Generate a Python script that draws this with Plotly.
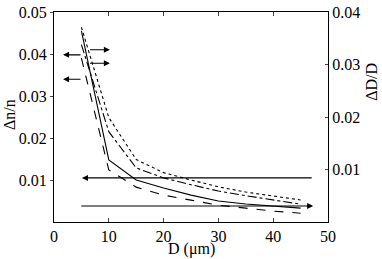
import plotly.graph_objects as go

D = [5, 10, 15, 20, 25, 30, 35, 40, 45]
# left axis (Δn/n)
solid_dn = [0.0455, 0.0148, 0.0100, 0.0081, 0.0064, 0.0050, 0.0043, 0.0038, 0.0033]
dashed_dn = [0.0390, 0.0124, 0.0083, 0.0064, 0.0052, 0.0040, 0.0033, 0.0026, 0.0021]
# right axis (ΔD/D)
dotted_dd = [0.0371, 0.0199, 0.0119, 0.0094, 0.0080, 0.0067, 0.0057, 0.0050, 0.0042]
dashdot_dd = [0.0338, 0.0172, 0.0103, 0.0084, 0.0071, 0.0059, 0.0050, 0.0042, 0.0034]

x_ticks = [0, 10, 20, 30, 40, 50]
left_ticks = [0.01, 0.02, 0.03, 0.04, 0.05]
right_ticks = [0.01, 0.02, 0.03, 0.04]

# arrows: (head_x, head_y, tail_x, tail_y) in x / left-y data units
arrow_head_x = [1.65, 1.65, 10.2, 10.2, 5.1, 47.3]
arrow_head_y = [0.0398, 0.0340, 0.0410, 0.0378, 0.0105, 0.0038]
arrow_tail_x = [5.1, 5.1, 6.3, 6.3, 47.3, 4.7]
arrow_tail_y = [0.0398, 0.0340, 0.0410, 0.0378, 0.0105, 0.0038]

font = "Times New Roman, Liberation Serif, Nimbus Roman, serif"
fig = go.Figure()
fig.add_trace(go.Scatter(x=D, y=solid_dn, mode="lines",
                         line=dict(color="black", width=1.1), showlegend=False))
fig.add_trace(go.Scatter(x=D, y=dashed_dn, mode="lines",
                         line=dict(color="black", width=1.1, dash="dash"), showlegend=False))
fig.add_trace(go.Scatter(x=D, y=dotted_dd, mode="lines", yaxis="y2",
                         line=dict(color="black", width=1.1, dash="dot"), showlegend=False))
fig.add_trace(go.Scatter(x=D, y=dashdot_dd, mode="lines", yaxis="y2",
                         line=dict(color="black", width=1.1, dash="dashdot"), showlegend=False))

for hx, hy, tx, ty in zip(arrow_head_x, arrow_head_y, arrow_tail_x, arrow_tail_y):
    fig.add_annotation(x=hx, y=hy, ax=tx, ay=ty, xref="x", yref="y",
                       axref="x", ayref="y", text="", showarrow=True,
                       arrowhead=2, arrowsize=1.1, arrowwidth=1.1,
                       arrowcolor="black")

tfont = dict(family=font, size=16, color="black")

# axis titles as paper-positioned texts
fig.add_annotation(text="D (μm)", xref="paper", yref="paper", x=0.5, y=-0.13,
                   xanchor="center", yanchor="middle", showarrow=False, font=tfont)
fig.add_annotation(text="Δn/n", xref="paper", yref="paper", x=-0.16, y=0.51,
                   xanchor="center", yanchor="middle", textangle=-90,
                   showarrow=False, font=tfont)
fig.add_annotation(text="ΔD/D", xref="paper", yref="paper", x=1.16, y=0.667,
                   xanchor="center", yanchor="middle", textangle=-90,
                   showarrow=False, font=tfont)

fig.update_layout(
    width=382, height=259,
    margin=dict(l=54, r=54, t=12, b=37),
    paper_bgcolor="white", plot_bgcolor="white",
    font=tfont,
    xaxis=dict(range=[0, 50], tickvals=x_ticks, ticks="inside", ticklen=4,
               showline=True, linecolor="black", linewidth=1, mirror="ticks",
               showgrid=False, zeroline=False, automargin=False,
               tickfont=tfont),
    yaxis=dict(range=[0, 0.05], tickvals=left_ticks, ticktext=[f"{v:.2f}" for v in left_ticks],
               ticks="outside", ticklen=3, automargin=False,
               showline=True, linecolor="black", linewidth=1,
               showgrid=False, zeroline=False, tickfont=tfont),
    yaxis2=dict(range=[0, 0.04], tickvals=right_ticks, ticktext=[f"{v:.2f}" for v in right_ticks],
                overlaying="y", side="right", ticks="inside", ticklen=3, automargin=False,
                showline=True, linecolor="black", linewidth=1,
                showgrid=False, zeroline=False, tickfont=tfont),
)

fig.write_html("out.html", config={"displayModeBar": False},
               post_script="document.body.style.margin='0px';document.body.style.overflow='hidden';")
